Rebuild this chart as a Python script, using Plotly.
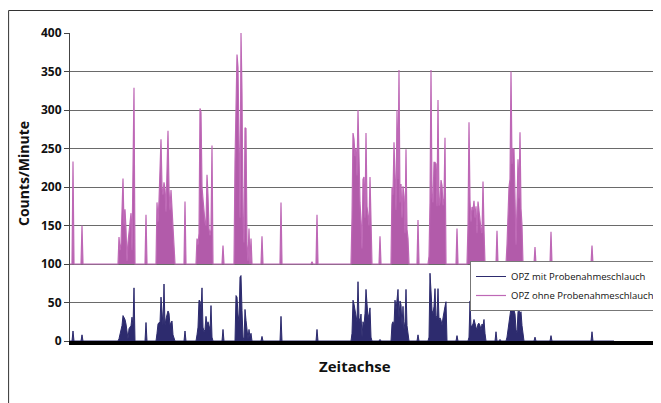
import plotly.graph_objects as go

# ---------------- data ----------------
N_SAMPLES = 545               # time samples along the "Zeitachse"
OHNE_BASELINE = 100           # "ohne" series is plotted with a +100 offset
MIT_BASELINE = 0

series_names = ["OPZ mit Probenahmeschlauch", "OPZ ohne Probenahmeschlauch"]
x_title = "Zeitachse"
y_title = "Counts/Minute"
y_ticks = [0, 50, 100, 150, 200, 250, 300, 350, 400]

# OPZ ohne Probenahmeschlauch: sample index where each burst starts, and the burst values
ohne_starts = [3, 12, 49, 76, 87, 115, 127, 153, 165, 192, 211, 242, 247, 282, 310,
               322, 348, 359, 387, 398, 427, 437, 456, 465, 481, 522]
ohne_bursts = [
    [233],
    [150],
    [135, 118, 126, 183, 211, 150, 171, 145, 104, 128, 140, 150, 166, 118, 210, 329],
    [164],
    [180, 155, 182, 232, 262, 200, 190, 206, 197, 168, 223, 273, 197, 170, 196, 170, 152, 115],
    [181],
    [133, 125, 140, 302, 297, 200, 184, 160, 154, 150, 216, 189, 146, 137, 145, 254],
    [124],
    [232, 300, 372, 355, 245, 160, 400, 322, 160, 128, 277, 276, 125, 104, 146, 100, 133],
    [136],
    [180],
    [103],
    [164],
    [160, 270, 262, 240, 250, 215, 300, 215, 180, 155, 120, 210, 213, 160, 270, 175, 165, 150, 213, 140],
    [136],
    [200, 190, 258, 200, 170, 300, 210, 352, 180, 204, 160, 201, 188, 140, 249, 145, 133],
    [157],
    [110, 180, 352, 187, 180, 232, 232, 230, 175, 313, 176, 180, 209, 202, 176, 185, 264],
    [146],
    [150, 284, 183, 155, 174, 170, 182, 160, 175, 140, 181, 165, 160, 145, 140, 207, 145],
    [143],
    [125, 180, 200, 210, 350, 230, 250, 249, 150, 125, 176, 236, 185, 271, 172, 150],
    [102],
    [122],
    [142],
    [124],
]

# OPZ mit Probenahmeschlauch
mit_starts = [3, 12, 49, 76, 87, 115, 127, 153, 166, 192, 211, 247, 282, 310, 322,
              348, 359, 387, 399, 426, 430, 437, 465, 481, 522]
mit_bursts = [
    [13],
    [8],
    [3, 8, 12, 20, 33, 30, 28, 22, 8, 3, 16, 18, 20, 31, 20, 69],
    [24],
    [10, 22, 24, 24, 57, 35, 20, 74, 20, 29, 33, 39, 36, 20, 24, 26, 8, 2],
    [13],
    [8, 18, 53, 52, 40, 69, 18, 12, 15, 32, 20, 25, 20, 14, 46, 5],
    [15],
    [59, 57, 35, 25, 83, 85, 40, 5, 2, 41, 27, 10, 3, 15, 5, 10],
    [6],
    [32],
    [15],
    [10, 53, 48, 40, 30, 25, 77, 30, 25, 35, 5, 25, 20, 36, 67, 38, 30, 35, 43, 5],
    [2],
    [22, 25, 20, 53, 40, 50, 67, 30, 52, 47, 20, 45, 15, 25, 67, 20, 5],
    [8],
    [5, 88, 65, 40, 35, 45, 68, 30, 33, 68, 28, 30, 27, 20, 30, 40, 45, 51],
    [7],
    [5, 52, 18, 20, 22, 28, 20, 18, 15, 22, 23, 20, 14, 22, 20, 28, 10],
    [12],
    [2],
    [5, 15, 25, 35, 43, 40, 44, 40, 35, 15, 10, 38, 40, 35, 38, 20, 8],
    [5],
    [7],
    [12],
]


def build_series(base, starts, bursts):
    y = [base] * N_SAMPLES
    for s, vals in zip(starts, bursts):
        y[s:s + len(vals)] = vals
    return y


t = list(range(N_SAMPLES))
mit = build_series(MIT_BASELINE, mit_starts, mit_bursts)
ohne = build_series(OHNE_BASELINE, ohne_starts, ohne_bursts)
ohne_floor = [OHNE_BASELINE] * N_SAMPLES

NAVY = "#2D2B6E"
MAGENTA = "#B25BAA"
MAGENTA_LINE = "#BE68B6"
FONT = "Open Sans"

# figure geometry (the page places the figure 8 px from the top-left corner)
W, H = 653, 395
L, R, T, B = 62, 0, 25, 62
PW, PH = W - L - R, H - T - B


def px(x):   # screen x -> paper
    return (x - 8 - L) / PW


def py(y):   # screen y -> paper
    return (H - B - (y - 8)) / PH


fig = go.Figure()
# dense bursts rendered as filled areas under each line
fig.add_trace(go.Scatter(
    x=t, y=mit, mode="lines", line=dict(color=NAVY, width=0),
    fill="tozeroy", fillcolor=NAVY, showlegend=False, hoverinfo="skip",
))
fig.add_trace(go.Scatter(
    x=t, y=ohne_floor, mode="lines", line=dict(width=0, color=MAGENTA),
    showlegend=False, hoverinfo="skip",
))
fig.add_trace(go.Scatter(
    x=t, y=ohne, mode="lines", line=dict(color=MAGENTA, width=0),
    fill="tonexty", fillcolor=MAGENTA, showlegend=False, hoverinfo="skip",
))
# the two lines themselves (legend entries)
fig.add_trace(go.Scatter(
    x=t, y=mit, mode="lines", name=series_names[0],
    line=dict(color=NAVY, width=1),
))
fig.add_trace(go.Scatter(
    x=t, y=ohne, mode="lines", name=series_names[1],
    line=dict(color=MAGENTA_LINE, width=1.2),
))

fig.update_layout(
    width=W, height=H, autosize=False,
    margin=dict(l=L, r=R, t=T, b=B, pad=0, autoexpand=False),
    paper_bgcolor="white", plot_bgcolor="white",
    font=dict(family=FONT, color="#111"),
    xaxis=dict(range=[0, PW], showgrid=False, zeroline=False, showticklabels=False,
               ticks="", showline=True, linecolor="black", linewidth=4),
    yaxis=dict(range=[0, 400], tickvals=y_ticks, showgrid=True, gridcolor="#6a6a6a",
               gridwidth=1, zeroline=False, showline=True, linecolor="#444",
               linewidth=1, ticks="outside", ticklen=5, tickcolor="#444",
               tickfont=dict(family=FONT, size=12, weight=700, color="#111")),
    showlegend=True,
    legend=dict(x=px(470), y=py(261), xanchor="left", yanchor="top",
                bgcolor="white", bordercolor="#777", borderwidth=1,
                font=dict(family=FONT, size=9.5, color="#111"),
                traceorder="normal", tracegroupgap=0),
    annotations=[
        dict(text=y_title, x=px(23), y=py(174), xref="paper", yref="paper",
             textangle=-90, showarrow=False, xanchor="center", yanchor="middle",
             font=dict(family=FONT, size=14, weight=700, color="#111")),
        dict(text=x_title, x=px(355), y=py(366), xref="paper", yref="paper",
             showarrow=False, xanchor="center", yanchor="middle",
             font=dict(family=FONT, size=15, weight=700, color="#111")),
    ],
    shapes=[
        dict(type="rect", xref="paper", yref="paper", x0=px(8.6), x1=px(700),
             y0=py(450), y1=py(10.5), line=dict(color="#333", width=1),
             fillcolor="rgba(0,0,0,0)", layer="below"),
    ],
)

fig.write_html("out.html")
